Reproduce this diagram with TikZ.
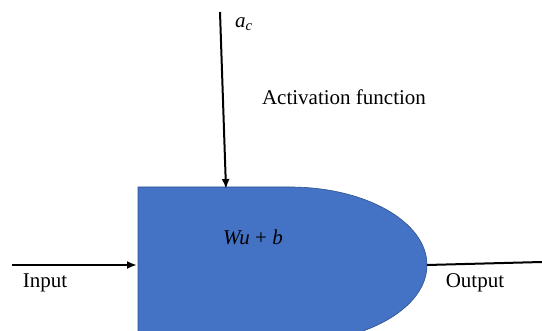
\documentclass[tikz,border=0pt]{standalone}
\usepackage{fontspec}
\setmainfont{Liberation Serif}
\usetikzlibrary{arrows.meta}
\definecolor{blockblue}{HTML}{4472C4}
\definecolor{blockedge}{HTML}{2F528F}

\begin{document}
\begin{tikzpicture}[x=1pt,y=-1pt,
    txt/.style={inner sep=0pt,font=\fontsize{21}{24}\selectfont},
    arr/.style={line width=2pt,-{Latex[length=10pt,width=8pt]}}]
            \useasboundingbox (0,0) rectangle (542,331);
            \begin{scope}
            \clip (0,0) rectangle (542,331);
            \fill[blockblue,draw=blockedge,line width=0.6pt] (138,187) -- (290,187) arc[start angle=-90, end angle=90, x radius=137, y radius=78] -- (138,343) -- cycle;
            \end{scope}
            \coordinate (actin) at (220,12);
            \coordinate (acttip) at (226,189);
            \coordinate (inin) at (12,265);
            \coordinate (intip) at (137,265);
            \coordinate (outin) at (427,265);
            \coordinate (outend) at (542,262);
            \draw[arr] (actin) -- (acttip);
            \draw[arr] (inin) -- (intip);
            \draw[line width=2pt] (outin) -- (outend);
            \node[txt] (ac) at (244,24){\textit{a}\textsubscript{\textit{c}}};
            \node[txt] (act) at (344,97){Activation function};
            \node[txt] (wub) at (253,237){\textit{Wu} + \textit{b}};
            \node[txt] (inp) at (45,283){Input};
            \node[txt] (outp) at (475,283){Output};
        \end{tikzpicture}
\end{document}
